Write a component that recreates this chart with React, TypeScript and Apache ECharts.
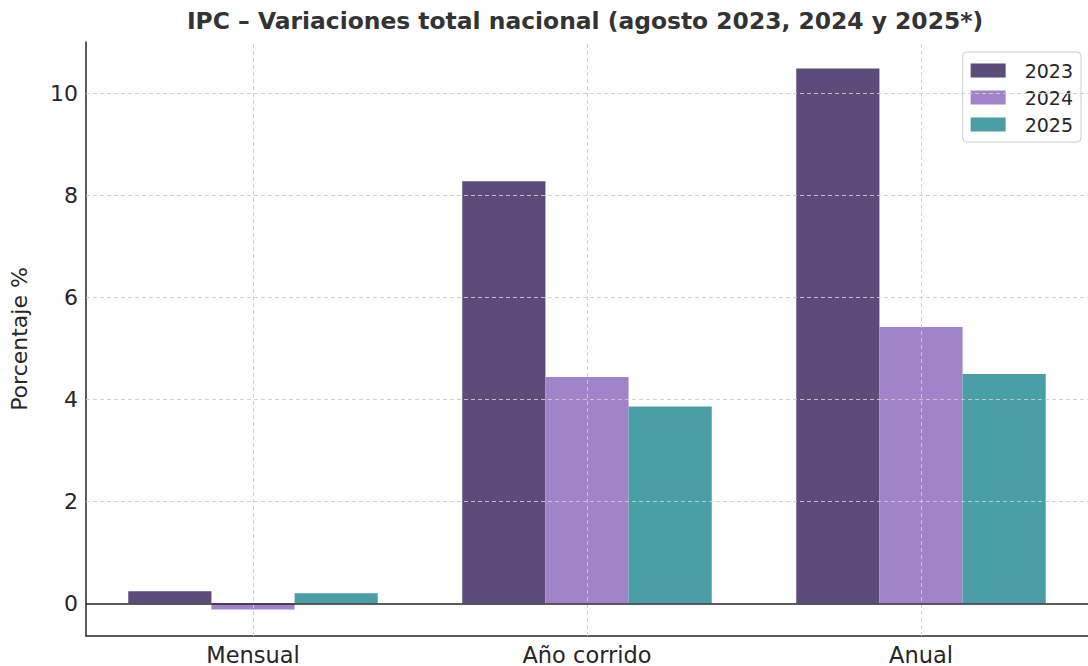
import React, { useEffect, useRef } from "react";
import * as echarts from "echarts";

const categories = ["Mensual", "Año corrido", "Anual"];
const seriesNames = ["2023", "2024", "2025"];
const values2023 = [0.24, 8.28, 10.49];
const values2024 = [-0.12, 4.44, 5.42];
const values2025 = [0.2, 3.86, 4.5];
const yTicks = [0, 2, 4, 6, 8, 10];
const colors = ["#5c4b7b", "#a183c9", "#4a9ea5"];
const titleText = "IPC – Variaciones total nacional (agosto 2023, 2024 y 2025*)";
const yAxisName = "Porcentaje %";

export default function App() {
  const ref = useRef<HTMLDivElement>(null);
  useEffect(() => {
    document.body.style.margin = "0";
    const chart = echarts.init(ref.current!, null, { renderer: "svg" });
    const font = "DejaVu Sans";
    const gridStyle = { color: "#cdcdcd", type: [4, 3] as any, width: 0.9 };
    const data = [values2023, values2024, values2025];
    const series: any[] = data.map((vals, i) => ({
      name: seriesNames[i],
      type: "bar",
      data: vals,
      barWidth: "24.9%",
      barGap: "0%",
      itemStyle: { color: colors[i] },
      z: 2,
    }));
    series.push({
      type: "line",
      data: [],
      silent: true,
      z: 5,
      markLine: {
        silent: true,
        symbol: "none",
        label: { show: false },
        lineStyle: gridStyle,
        data: [
          ...yTicks.filter((t) => t !== 0).map((t) => ({ yAxis: t })),
          ...categories.map((c) => ({ xAxis: c })),
        ],
      },
    });
    series.push({
      type: "line",
      data: [],
      silent: true,
      z: 6,
      markLine: {
        silent: true,
        symbol: "none",
        label: { show: false },
        lineStyle: { color: "#262626", type: "solid", width: 1.5 },
        data: [{ yAxis: 0 }],
      },
    });
    chart.setOption({
      animation: false,
      textStyle: { fontFamily: font },
      grid: { left: 80, right: 0, top: 42, bottom: 26, containLabel: false },
      graphic: [
        {
          type: "text",
          x: 585,
          y: 21,
          style: {
            text: titleText,
            textAlign: "center",
            textVerticalAlign: "middle",
            fontFamily: font,
            fontSize: 23.4,
            fontWeight: "bold",
            fill: "#333333",
          },
        },
      ],
      legend: {
        data: seriesNames,
        orient: "vertical",
        right: 7,
        top: 52,
        icon: "rect",
        itemWidth: 35,
        itemHeight: 14,
        itemGap: 8,
        padding: [9, 8, 8, 8],
        borderColor: "#cccccc",
        borderWidth: 1,
        borderRadius: 4,
        backgroundColor: "#ffffff",
        textStyle: { fontSize: 19, color: "#262626", fontFamily: font, padding: [0, 0, 0, 14] },
      },
      xAxis: {
        type: "category",
        data: categories,
        boundaryGap: true,
        axisLine: { onZero: false, lineStyle: { color: "#262626", width: 1.5 } },
        axisTick: { alignWithLabel: true, length: 6, lineStyle: { color: "#262626" } },
        axisLabel: { fontSize: 22.5, color: "#262626", margin: 7, fontFamily: font },
        splitLine: { show: false },
      },
      yAxis: {
        type: "value",
        min: -0.64,
        max: 11.01,
        name: yAxisName,
        nameLocation: "middle",
        nameRotate: 90,
        nameGap: 56,
        nameTextStyle: { fontSize: 22, color: "#262626", fontFamily: font },
        axisLine: { show: true, lineStyle: { color: "#262626", width: 1.5 } },
        axisTick: { show: false, customValues: yTicks },
        axisLabel: { fontSize: 22, color: "#262626", margin: 8, customValues: yTicks, fontFamily: font },
        splitLine: { show: false },
      },
      series,
    });
    return () => chart.dispose();
  }, []);
  return <div ref={ref} style={{ width: 1088, height: 666 }} />;
}
